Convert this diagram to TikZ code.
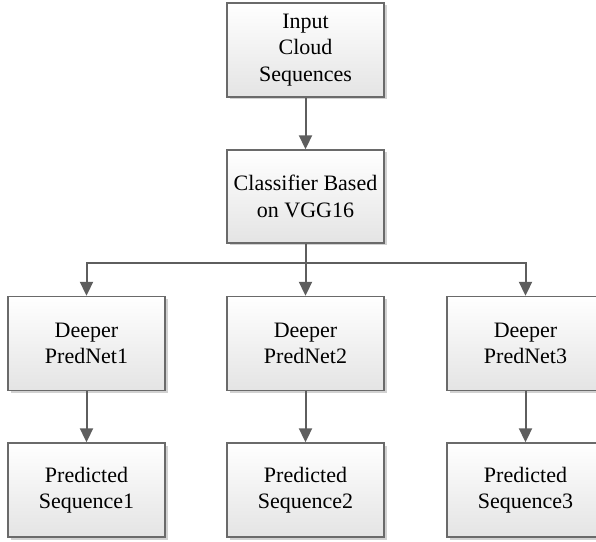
\documentclass[tikz,border=0pt]{standalone}
\usepackage{fontspec}
\setmainfont{Liberation Serif}
\usetikzlibrary{arrows.meta,shadows,calc}
\definecolor{edgegray}{HTML}{5E5E5E}
\definecolor{boxline}{HTML}{6A6A6A}
\definecolor{boxbottom}{HTML}{E4E4E4}
\tikzset{
  box/.style={draw=boxline, line width=1.4pt, rectangle, minimum width=157pt, minimum height=94pt,
    top color=white, bottom color=boxbottom, align=center, inner sep=0pt,
    font=\fontsize{22}{26.5}\selectfont,
    drop shadow={shadow xshift=2.5pt, shadow yshift=-2.5pt, fill=black!18, opacity=1}},
  arr/.style={draw=edgegray, line width=2pt, -{Triangle[width=13pt,length=14pt]}},
  ln/.style={draw=edgegray, line width=2pt}
}
\begin{document}
\begin{tikzpicture}[x=1pt,y=1pt]
\useasboundingbox (0,0) rectangle (596,541);
\node[box] (inp) at (305.5,491) {Input\\Cloud\\Sequences};
\node[box, minimum height=93pt] (cls) at (305.5,344.5) {Classifier Based\\on VGG16};
\node[box] (d1) at (86.5,197.5) {Deeper\\PredNet1};
\node[box] (d2) at (305.5,197.5) {Deeper\\PredNet2};
\node[box] (d3) at (525.5,197.5) {Deeper\\PredNet3};
\node[box] (p1) at (86.5,51) {Predicted\\Sequence1};
\node[box] (p2) at (305.5,51) {Predicted\\Sequence2};
\node[box] (p3) at (525.5,51) {Predicted\\Sequence3};
\coordinate (br) at (305.5,278);
\draw[arr] (inp) -- (cls);
\draw[arr] (cls.south) -- (d2.north);
\draw[ln] (cls.south) -- (br);
\draw[arr] (br) -| (d1.north);
\draw[arr] (br) -| (d3.north);
\draw[arr] (d1) -- (p1);
\draw[arr] (d2) -- (p2);
\draw[arr] (d3) -- (p3);
\end{tikzpicture}
\end{document}
